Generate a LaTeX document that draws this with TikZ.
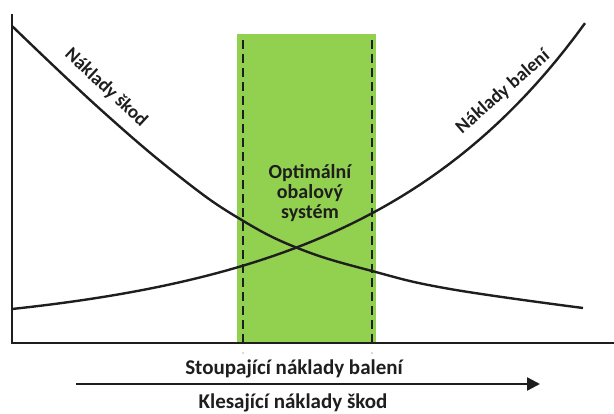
\documentclass[tikz,border=0pt]{standalone}
\usepackage{fontspec}
\setmainfont{Carlito}
\usetikzlibrary{arrows.meta}
\definecolor{optgreen}{RGB}{146,208,80}
\definecolor{inkgray}{RGB}{30,30,30}

\begin{document}
\begin{tikzpicture}[x=1pt,y=-1pt,
  curve/.style={line width=2.4pt, inkgray},
  limit/.style={line width=2.6pt, inkgray, dash pattern=on 9pt off 5pt},
  curvelabel/.style={font=\bfseries\fontsize{19}{22}\selectfont, inkgray},
  axislabel/.style={font=\bfseries\fontsize{21}{24}\selectfont, inkgray}]

\useasboundingbox (0,0) rectangle (614,414);

% Axes
\coordinate (O) at (12,343);
\coordinate (Ytop) at (12,14);
\coordinate (Xend) at (614,343);

% Optimal band
\coordinate (G1) at (237,34);
\coordinate (G2) at (376,343);
\fill[optgreen] (G1) rectangle (G2);

% Band limits
\coordinate (L1) at (243,40);
\coordinate (L2) at (372,40);
\coordinate (L1b) at (243,343);
\coordinate (L2b) at (372,343);
\draw[limit] (L1)--(L1b) (L2)--(L2b);

\draw[line width=2.4pt, inkgray] (Ytop)--(O)--(Xend);

% Damage costs
\draw[curve] plot[smooth, tension=0.7] coordinates
  {(12,26) (100,109) (180,177) (240,219) (300,249) (372,271) (450,289) (583,308)};

% Packaging costs
\draw[curve] plot[domain=12:585, samples=60] (\x, {333-24*exp((\x-12)/224)});

% Labels
\node[curvelabel, rotate=-43] (dmg) at (106,88) {Náklady škod};
\node[curvelabel, rotate=41] (pack) at (503,92) {Náklady balení};
\node[font=\bfseries\fontsize{20}{20}\selectfont, inkgray, align=center] (opt) at (310,193)
  {Optimální\\obalový\\systém};

% Ticks below the axis
\node[circle, fill=gray!60, inner sep=0.6pt] (t1) at (243,353) {};
\node[circle, fill=gray!60, inner sep=0.6pt] (t2) at (372,353) {};

% Bottom arrow
\coordinate (A1) at (76,384);
\coordinate (A2) at (540,384);
\draw[line width=2.4pt, inkgray, -{Triangle[length=13pt, width=13pt]}] (A1)--(A2);
\node[axislabel] (up) at (294,369) {Stoupající náklady balení};
\node[axislabel] (down) at (293,403) {Klesající náklady škod};

\end{tikzpicture}
\end{document}
